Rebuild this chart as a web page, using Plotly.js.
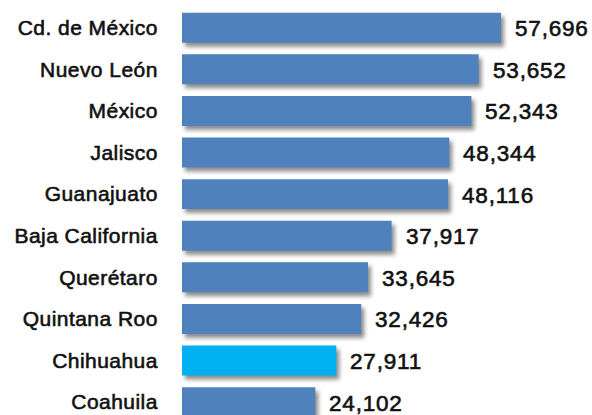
<!DOCTYPE html>
<html>
<head>
<meta charset="utf-8">
<script src="https://cdn.plot.ly/plotly-3.0.1.min.js"></script>
<style>
html,body{margin:0;padding:0;background:#fff;}
#chart{width:592px;height:415px;}
.trace.bars path{filter:drop-shadow(3px 4px 2px rgba(0,0,0,0.45));}
.annotation-text, .ytick text{stroke:#111;stroke-width:0.6px;}
.ytick text{letter-spacing:0.45px;}
.annotation-text{letter-spacing:0.8px;}
</style>
</head>
<body>
<div id="chart"></div>
<script>
const categories = ["Cd. de México","Nuevo León","México","Jalisco","Guanajuato","Baja California","Querétaro","Quintana Roo","Chihuahua","Coahuila"];
const values = [57696,53652,52343,48344,48116,37917,33645,32426,27911,24102];
const highlight = "Chihuahua";
const valueLabels = values.map(v => v.toLocaleString("en-US"));

const colors = categories.map(c => c === highlight ? "#00B0F0" : "#4F81BD");

const trace = {
  type: "bar",
  orientation: "h",
  x: values,
  y: categories,
  marker: {color: colors, line: {width: 0}},
  hoverinfo: "none"
};

const annotations = categories.map((c, i) => ({
  x: values[i], y: c, xref: "x", yref: "y",
  text: valueLabels[i], showarrow: false,
  xanchor: "left", yanchor: "middle", xshift: 12, yshift: -1,
  font: {family: "Liberation Sans, Arial, sans-serif", size: 22.5, color: "#111"}
}));

const layout = {
  width: 592, height: 415,
  margin: {l: 182, r: 0, t: 0, b: 0, pad: 0},
  paper_bgcolor: "#fff", plot_bgcolor: "#fff",
  bargap: 0.28,
  showlegend: false,
  xaxis: {range: [0, 74155], visible: false, fixedrange: true},
  yaxis: {
    type: "category",
    categoryorder: "array", categoryarray: categories,
    range: [9.31, -0.666],
    showgrid: false, zeroline: false, showline: false,
    ticks: "outside", ticklen: 19, tickcolor: "rgba(0,0,0,0)",
    tickfont: {family: "Liberation Sans, Arial, sans-serif", size: 21, color: "#111"},
    fixedrange: true
  },
  annotations: annotations
};

Plotly.newPlot("chart", [trace], layout, {staticPlot: true, displayModeBar: false});
</script>
</body>
</html>
